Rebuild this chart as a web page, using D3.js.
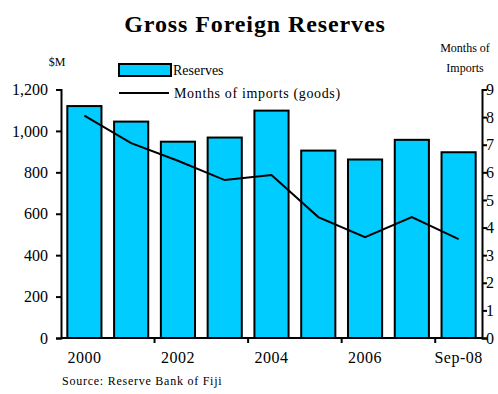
<!DOCTYPE html>
<html>
<head>
<meta charset="utf-8">
<script src="https://cdn.jsdelivr.net/npm/d3@7"></script>
<style>
  html, body { margin: 0; padding: 0; background: #fff; }
  svg { display: block; font-family: "Liberation Serif", "Times New Roman", serif; }
</style>
</head>
<body>
<svg id="chart" width="498" height="394"></svg>
<script>
// Gross foreign reserves ($M) and months of imports cover
const periods = ["2000", "2001", "2002", "2003", "2004", "2005", "2006", "2007", "Sep-08"];
const xTickLabels = ["2000", "", "2002", "", "2004", "", "2006", "", "Sep-08"];
const reserves = [1120, 1045, 948, 968, 1098, 905, 862, 957, 897];
const monthsOfImports = [8.05, 7.06, 6.42, 5.72, 5.9, 4.38, 3.65, 4.38, 3.58];
const leftTicks = [0, 200, 400, 600, 800, 1000, 1200];
const rightTicks = [0, 1, 2, 3, 4, 5, 6, 7, 8, 9];

const svg = d3.select("#chart");
const plot = { left: 61, right: 482, top: 89.5, bottom: 338 };

const x = d3.scaleBand()
  .domain(periods)
  .range([plot.left, plot.right])
  .paddingInner(0.27)
  .paddingOuter(0.135);

const yLeft = d3.scaleLinear().domain([0, 1200]).range([plot.bottom, plot.top]);
const yRight = d3.scaleLinear().domain([0, 9]).range([plot.bottom, plot.top]);

// Title
svg.append("text")
  .attr("x", 255).attr("y", 32)
  .attr("text-anchor", "middle")
  .attr("font-size", 24).attr("font-weight", "bold")
  .attr("letter-spacing", 0.9)
  .text("Gross Foreign Reserves");

// Axis captions
svg.append("text").attr("x", 57).attr("y", 66).attr("text-anchor", "middle")
  .attr("font-size", 12).text("$M");
svg.append("text").attr("x", 465).attr("y", 52).attr("text-anchor", "middle")
  .attr("font-size", 12).text("Months of");
svg.append("text").attr("x", 465).attr("y", 72).attr("text-anchor", "middle")
  .attr("font-size", 12).text("Imports");

// Bars
svg.append("g").selectAll("rect")
  .data(periods)
  .join("rect")
  .attr("x", d => x(d))
  .attr("y", (d, i) => yLeft(reserves[i]))
  .attr("width", x.bandwidth())
  .attr("height", (d, i) => yLeft(0) - yLeft(reserves[i]))
  .attr("fill", "#00CCFF")
  .attr("stroke", "#000")
  .attr("stroke-width", 2);

// Months of imports line
const line = d3.line()
  .x((d, i) => x(periods[i]) + x.bandwidth() / 2)
  .y(d => yRight(d));
svg.append("path")
  .datum(monthsOfImports)
  .attr("d", line)
  .attr("fill", "none")
  .attr("stroke", "#000")
  .attr("stroke-width", 2);

// Left axis
const leftAxis = svg.append("g")
  .attr("transform", `translate(${plot.left},0)`)
  .call(d3.axisLeft(yLeft).tickValues(leftTicks).tickSize(5).tickPadding(8)
    .tickFormat(d3.format(",")));
// Right axis
const rightAxis = svg.append("g")
  .attr("transform", `translate(${plot.right},0)`)
  .call(d3.axisRight(yRight).tickValues(rightTicks).tickSize(5).tickPadding(0));
// Bottom axis: tick marks at every second band boundary, labels under bars
const bottom = svg.append("g");
bottom.append("line")
  .attr("x1", plot.left).attr("x2", plot.right)
  .attr("y1", plot.bottom).attr("y2", plot.bottom)
  .attr("stroke", "#000").attr("stroke-width", 2);
const boundaries = periods.slice(1).filter((d, i) => i % 2 === 1)
  .map(d => x(d) - x.step() * x.paddingInner() / 2);
bottom.selectAll("line.tick")
  .data(boundaries)
  .join("line")
  .attr("class", "tick")
  .attr("x1", d => d).attr("x2", d => d)
  .attr("y1", plot.bottom).attr("y2", plot.bottom + 5)
  .attr("stroke", "#000").attr("stroke-width", 2);
bottom.selectAll("text")
  .data(periods)
  .join("text")
  .attr("x", d => x(d) + x.bandwidth() / 2)
  .attr("y", 363)
  .attr("text-anchor", "middle")
  .attr("font-size", 16)
  .attr("letter-spacing", 0.5)
  .text((d, i) => xTickLabels[i]);

[leftAxis, rightAxis].forEach(g => {
  g.select(".domain").attr("stroke", "#000").attr("stroke-width", 2);
  g.selectAll(".tick line").attr("stroke", "#000").attr("stroke-width", 2);
  g.selectAll(".tick text")
    .attr("font-family", "Liberation Serif, Times New Roman, serif")
    .attr("font-size", 16).attr("fill", "#000");
});
rightAxis.selectAll(".tick text").attr("x", 4);

// Legend
const legend = svg.append("g");
legend.append("rect")
  .attr("x", 119).attr("y", 64).attr("width", 52).attr("height", 12)
  .attr("fill", "#00CCFF").attr("stroke", "#000").attr("stroke-width", 2);
legend.append("text").attr("x", 173).attr("y", 75).attr("font-size", 14).text("Reserves");
legend.append("line")
  .attr("x1", 119).attr("x2", 169).attr("y1", 93).attr("y2", 93)
  .attr("stroke", "#000").attr("stroke-width", 2);
legend.append("text").attr("x", 174).attr("y", 98).attr("font-size", 14)
  .attr("letter-spacing", 0.65)
  .text("Months of imports (goods)");

// Source note
svg.append("text").attr("x", 62).attr("y", 385).attr("font-size", 12)
  .attr("letter-spacing", 0.75)
  .text("Source:  Reserve Bank of Fiji");
</script>
</body>
</html>
